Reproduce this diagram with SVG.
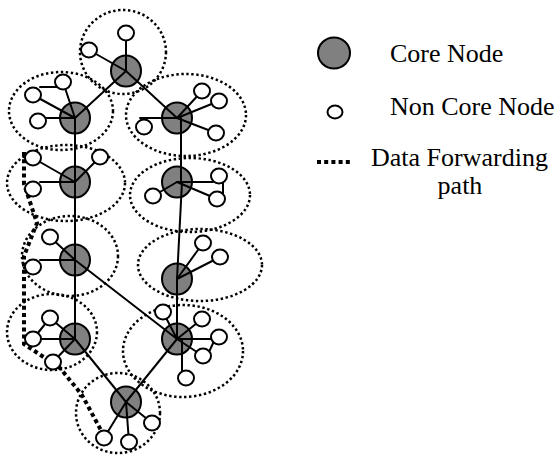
<svg xmlns="http://www.w3.org/2000/svg" width="559" height="455" viewBox="0 0 559 455">
  <style>
    .zone { fill: none; stroke: #000; stroke-width: 2.5; stroke-dasharray: 2.4 2.6; }
    .core { fill: #808080; stroke: #000; stroke-width: 2; }
    .leaf { fill: #fff; stroke: #000; stroke-width: 2; }
    .link { stroke: #000; stroke-width: 2; fill: none; stroke-linecap: round; }
    .route { fill: none; stroke: #000; stroke-width: 4; stroke-dasharray: 4 3.2; }
    .label { font-family: "Liberation Serif", "Times New Roman", serif; font-size: 26px; fill: #000; }
  </style>

  <!-- cluster boundaries -->
  <g id="zones">
    <ellipse class="zone" cx="123" cy="52" rx="43" ry="42"/>
    <ellipse class="zone" cx="61" cy="111" rx="52" ry="39"/>
    <ellipse class="zone" cx="186" cy="115" rx="60" ry="41"/>
    <ellipse class="zone" cx="66" cy="183" rx="59" ry="38"/>
    <ellipse class="zone" cx="190" cy="195" rx="60" ry="37"/>
    <ellipse class="zone" cx="70" cy="256" rx="48" ry="40"/>
    <ellipse class="zone" cx="200" cy="265" rx="62" ry="36"/>
    <ellipse class="zone" cx="52" cy="332" rx="45" ry="38"/>
    <ellipse class="zone" cx="183" cy="351" rx="60" ry="46"/>
    <ellipse class="zone" cx="118" cy="413" rx="42" ry="40"/>
  </g>

  <!-- forwarding route -->
  <g id="route">
    <polyline class="route" points="24,152 24,184 37,223 24,256 24,344 60,368 82,395 103,434"/>
  </g>

  <!-- core nodes -->
  <g id="core-1"><ellipse class="core" cx="126" cy="71" rx="15" ry="15.5"/></g>
  <g id="core-2"><ellipse class="core" cx="75" cy="118" rx="15" ry="15.5"/></g>
  <g id="core-3"><ellipse class="core" cx="177" cy="118" rx="15" ry="15.5"/></g>
  <g id="core-4"><ellipse class="core" cx="75" cy="182" rx="15" ry="15.5"/></g>
  <g id="core-5"><ellipse class="core" cx="177" cy="182" rx="15" ry="15.5"/></g>
  <g id="core-6"><ellipse class="core" cx="75" cy="260" rx="15" ry="15.5"/></g>
  <g id="core-7"><ellipse class="core" cx="177" cy="279" rx="15" ry="15.5"/></g>
  <g id="core-8"><ellipse class="core" cx="75" cy="339" rx="15" ry="15.5"/></g>
  <g id="core-9"><ellipse class="core" cx="177" cy="339" rx="15" ry="15.5"/></g>
  <g id="core-10"><ellipse class="core" cx="126" cy="402" rx="15" ry="15.5"/></g>

  <!-- connectors -->
  <g id="links">
    <!-- backbone between core nodes -->
    <line class="link" x1="126" y1="71" x2="75" y2="118"/>
    <line class="link" x1="126" y1="71" x2="177" y2="118"/>
    <line class="link" x1="75" y1="118" x2="75" y2="339"/>
    <line class="link" x1="181" y1="118" x2="181" y2="182"/>
    <line class="link" x1="182" y1="182" x2="177" y2="279"/>
    <line class="link" x1="177" y1="279" x2="177" y2="339"/>
    <line class="link" x1="75" y1="260" x2="177" y2="339"/>
    <line class="link" x1="177" y1="339" x2="126" y2="402"/>
    <line class="link" x1="75" y1="339" x2="126" y2="402"/>

    <!-- core 1 members -->
    <line class="link" x1="126" y1="71" x2="126" y2="33"/>
    <line class="link" x1="126" y1="71" x2="89" y2="50"/>
    <!-- core 2 members -->
    <line class="link" x1="75" y1="118" x2="63" y2="82"/>
    <line class="link" x1="75" y1="118" x2="33" y2="95"/>
    <line class="link" x1="75" y1="118" x2="44" y2="118"/>
    <line class="link" x1="40" y1="87" x2="58" y2="87"/>
    <!-- core 3 members -->
    <line class="link" x1="177" y1="118" x2="202" y2="91"/>
    <line class="link" x1="177" y1="118" x2="219" y2="101"/>
    <line class="link" x1="177" y1="118" x2="216" y2="133"/>
    <line class="link" x1="177" y1="118" x2="140" y2="118"/>
    <!-- core 4 members -->
    <line class="link" x1="75" y1="182" x2="33" y2="158"/>
    <line class="link" x1="75" y1="182" x2="40" y2="182"/>
    <line class="link" x1="75" y1="182" x2="100" y2="157"/>
    <!-- core 5 members -->
    <line class="link" x1="177" y1="182" x2="213" y2="182"/>
    <line class="link" x1="223" y1="178" x2="223" y2="195"/>
    <line class="link" x1="177" y1="182" x2="217" y2="199"/>
    <line class="link" x1="177" y1="182" x2="153" y2="196"/>
    <!-- core 6 members -->
    <line class="link" x1="75" y1="260" x2="50" y2="237"/>
    <line class="link" x1="75" y1="260" x2="40" y2="260"/>
    <!-- core 7 members -->
    <line class="link" x1="177" y1="279" x2="203" y2="243"/>
    <line class="link" x1="177" y1="279" x2="220" y2="257"/>
    <!-- core 8 members -->
    <line class="link" x1="75" y1="339" x2="50" y2="318"/>
    <line class="link" x1="75" y1="339" x2="33" y2="339"/>
    <line class="link" x1="75" y1="339" x2="53" y2="362"/>
    <line class="link" x1="33" y1="339" x2="50" y2="318"/>
    <!-- core 9 members -->
    <line class="link" x1="177" y1="339" x2="163" y2="312"/>
    <line class="link" x1="177" y1="339" x2="202" y2="319"/>
    <line class="link" x1="177" y1="339" x2="215" y2="339"/>
    <line class="link" x1="215" y1="339" x2="209" y2="352"/>
    <line class="link" x1="177" y1="339" x2="203" y2="356"/>
    <line class="link" x1="182" y1="339" x2="182" y2="372"/>
    <!-- core 10 members -->
    <line class="link" x1="126" y1="402" x2="152" y2="423"/>
    <line class="link" x1="126" y1="402" x2="129" y2="442"/>
    <line class="link" x1="126" y1="402" x2="104" y2="438"/>
  </g>

  <!-- non-core nodes -->
  <g id="leaf-1a"><ellipse class="leaf" cx="126" cy="33" rx="8" ry="7.4"/></g>
  <g id="leaf-1b"><ellipse class="leaf" cx="89" cy="50" rx="8" ry="7.4"/></g>
  <g id="leaf-2a"><ellipse class="leaf" cx="63" cy="82" rx="8" ry="7.4"/></g>
  <g id="leaf-2b"><ellipse class="leaf" cx="33" cy="95" rx="8" ry="7.4"/></g>
  <g id="leaf-2c"><ellipse class="leaf" cx="38" cy="121" rx="8" ry="7.4"/></g>
  <g id="leaf-3a"><ellipse class="leaf" cx="202" cy="91" rx="8" ry="7.4"/></g>
  <g id="leaf-3b"><ellipse class="leaf" cx="219" cy="101" rx="8" ry="7.4"/></g>
  <g id="leaf-3c"><ellipse class="leaf" cx="216" cy="133" rx="8" ry="7.4"/></g>
  <g id="leaf-3d"><ellipse class="leaf" cx="144" cy="127" rx="8" ry="7.4"/></g>
  <g id="leaf-4a"><ellipse class="leaf" cx="33" cy="158" rx="8" ry="7.4"/></g>
  <g id="leaf-4b"><ellipse class="leaf" cx="33" cy="189" rx="8" ry="7.4"/></g>
  <g id="leaf-4c"><ellipse class="leaf" cx="100" cy="157" rx="8" ry="7.4"/></g>
  <g id="leaf-5a"><ellipse class="leaf" cx="219" cy="176" rx="8" ry="7.4"/></g>
  <g id="leaf-5b"><ellipse class="leaf" cx="217" cy="199" rx="8" ry="7.4"/></g>
  <g id="leaf-5c"><ellipse class="leaf" cx="153" cy="196" rx="8" ry="7.4"/></g>
  <g id="leaf-6a"><ellipse class="leaf" cx="50" cy="237" rx="8" ry="7.4"/></g>
  <g id="leaf-6b"><ellipse class="leaf" cx="33" cy="267" rx="8" ry="7.4"/></g>
  <g id="leaf-7a"><ellipse class="leaf" cx="203" cy="243" rx="8" ry="7.4"/></g>
  <g id="leaf-7b"><ellipse class="leaf" cx="220" cy="257" rx="8" ry="7.4"/></g>
  <g id="leaf-8a"><ellipse class="leaf" cx="50" cy="318" rx="8" ry="7.4"/></g>
  <g id="leaf-8b"><ellipse class="leaf" cx="33" cy="339" rx="8" ry="7.4"/></g>
  <g id="leaf-8c"><ellipse class="leaf" cx="53" cy="362" rx="8" ry="7.4"/></g>
  <g id="leaf-9a"><ellipse class="leaf" cx="163" cy="312" rx="8" ry="7.4"/></g>
  <g id="leaf-9b"><ellipse class="leaf" cx="202" cy="319" rx="8" ry="7.4"/></g>
  <g id="leaf-9c"><ellipse class="leaf" cx="219" cy="337" rx="8" ry="7.4"/></g>
  <g id="leaf-9d"><ellipse class="leaf" cx="203" cy="356" rx="8" ry="7.4"/></g>
  <g id="leaf-9e"><ellipse class="leaf" cx="186" cy="378" rx="8" ry="7.4"/></g>
  <g id="leaf-10a"><ellipse class="leaf" cx="152" cy="423" rx="8" ry="7.4"/></g>
  <g id="leaf-10b"><ellipse class="leaf" cx="129" cy="442" rx="8" ry="7.4"/></g>
  <g id="leaf-10c"><ellipse class="leaf" cx="104" cy="438" rx="8" ry="7.4"/></g>

  <!-- legend -->
  <g id="legend">
    <ellipse class="core" cx="334" cy="53" rx="16" ry="15.5"/>
    <text class="label" x="390" y="62">Core Node</text>
    <ellipse class="leaf" cx="335" cy="112" rx="7.5" ry="6.5"/>
    <text class="label" x="390" y="115">Non Core Node</text>
    <line class="route" x1="317" y1="162" x2="352" y2="162" stroke-dasharray="4 3.75"/>
    <text class="label" x="371" y="166">Data Forwarding</text>
    <text class="label" x="460" y="194" text-anchor="middle">path</text>
  </g>
</svg>
